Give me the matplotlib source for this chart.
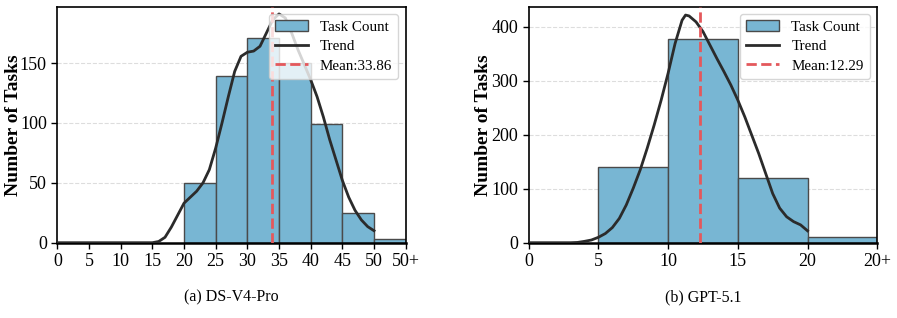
import numpy as np
import matplotlib
matplotlib.use('Agg')
import matplotlib.pyplot as plt

plt.rcParams['font.family'] = ['Liberation Serif', 'DejaVu Serif']

# ---- (a) DS-V4-Pro ----
a_edges = [20, 25, 30, 35, 40, 45, 50]
a_counts = [50, 139, 171, 150, 99, 25, 3]
a_mean = 33.86
a_trend_x = list(range(0, 51))
a_trend_y = [0, 0, 0, 0, 0, 0, 0, 0, 0, 0, 0, 0, 0, 0, 0, 0,
             1, 4.5, 13, 23, 33, 38, 43, 50, 61, 79, 100, 122, 143, 155.6,
             159, 160, 164, 175, 186, 191, 187.6, 175, 161, 148.6, 136,
             122, 105, 86, 69, 52, 38, 27, 19, 13.4, 10]
a_ticks = [0, 5, 10, 15, 20, 25, 30, 35, 40, 45, 50, 55]
a_ticklabels = ['0', '5', '10', '15', '20', '25', '30', '35', '40', '45', '50', '50+']
a_yticks = [0, 50, 100, 150]

# ---- (b) GPT-5.1 ----
b_edges = [5, 10, 15, 20]
b_counts = [141, 378, 119, 10]
b_mean = 12.29
b_trend_x = [0, 1, 2, 3, 3.5, 4, 4.5, 5, 5.5, 6, 6.5, 7, 7.5, 8, 8.5, 9, 9.5,
             10, 10.5, 11, 11.25, 11.5, 12, 12.5, 13, 13.5, 14, 14.5, 15,
             15.5, 16, 16.5, 17, 17.5, 18, 18.5, 19, 19.5, 20]
b_trend_y = [0, 0, 0, 0, 0.5, 2.5, 5, 10, 17, 28, 45, 70, 101, 135, 175, 218,
             264, 314, 369, 412, 421.6, 420, 409, 391, 366, 341, 317, 292,
             264, 233, 199, 165, 128, 91, 64, 48, 39, 33, 22]
b_ticks = [0, 5, 10, 15, 20, 25]
b_ticklabels = ['0', '5', '10', '15', '20', '20+']
b_yticks = [0, 100, 200, 300, 400]

bar_color = '#78b6d3'
edge_color = '#4a4a4a'
line_color = '#2b2b2b'
mean_color = '#e4585c'


def draw_panel(ax, edges, counts, mean, tx, ty, ticks, ticklabels, yticks, xmax, ymax, caption, label_x):
    bars = ax.bar(edges, counts, width=5, align='edge', color=bar_color,
                  edgecolor=edge_color, linewidth=1.0, label='Task Count', zorder=2)
    line, = ax.plot(tx, ty, color=line_color, linewidth=2, label='Trend', zorder=3)
    mline = ax.axvline(mean, color=mean_color, linestyle='--', linewidth=2,
                       label='Mean:%.2f' % mean, zorder=4)
    ax.set_xlim(0, xmax)
    ax.set_ylim(0, ymax)
    ax.set_xticks(ticks)
    ax.set_xticklabels(ticklabels)
    ax.set_yticks(yticks)
    ax.tick_params(labelsize=13, length=4, width=1)
    ax.yaxis.grid(True, linestyle='--', color='#dddddd', linewidth=0.8, zorder=0)
    ax.set_axisbelow(True)
    for s in ax.spines.values():
        s.set_linewidth(1.2)
    ax.spines['bottom'].set_linewidth(1.8)
    ax.set_ylabel('Number of Tasks', fontsize=14, fontweight='bold')
    ax.yaxis.set_label_coords(label_x, 0.5)
    ax.legend([bars, line, mline], ['Task Count', 'Trend', 'Mean:%.2f' % mean],
              loc='upper right', fontsize=10.8, frameon=True,
              fancybox=True, framealpha=0.8, edgecolor='#cccccc',
              borderaxespad=0.5, handlelength=2.2, labelspacing=0.4)
    ax.text(0.5, -0.232, caption, transform=ax.transAxes, ha='center',
            va='center', fontsize=11.5)


fig = plt.figure(figsize=(8.97, 3.18), dpi=100)
ax1 = fig.add_axes([0.0639, 0.2368, 0.3884, 0.742])
ax2 = fig.add_axes([0.5894, 0.2368, 0.3886, 0.742])

draw_panel(ax1, a_edges, a_counts, a_mean, a_trend_x, a_trend_y, a_ticks,
           a_ticklabels, a_yticks, 55, 197, '(a) DS-V4-Pro', -0.10)
draw_panel(ax2, b_edges, b_counts, b_mean, b_trend_x, b_trend_y, b_ticks,
           b_ticklabels, b_yticks, 25, 437, '(b) GPT-5.1', -0.105)

fig.savefig('out.png', dpi=100)
